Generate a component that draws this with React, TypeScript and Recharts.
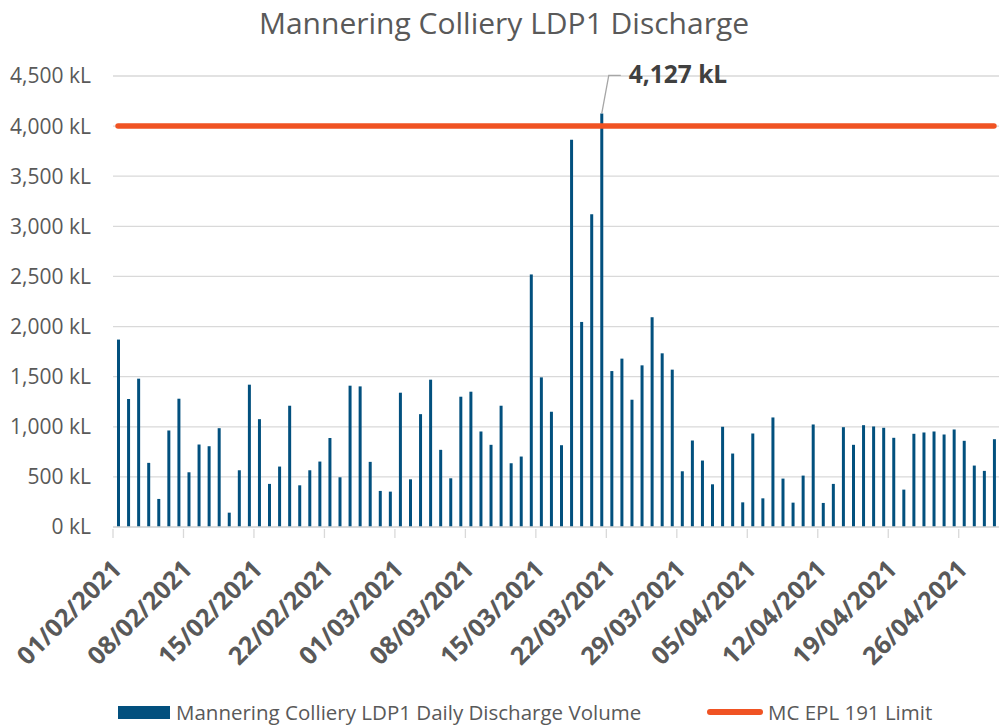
import { ComposedChart, Bar, Line, XAxis, YAxis, CartesianGrid, Legend, LabelList } from 'recharts';

const dates = [
  '01/02/2021', '02/02/2021', '03/02/2021', '04/02/2021', '05/02/2021', '06/02/2021', '07/02/2021',
  '08/02/2021', '09/02/2021', '10/02/2021', '11/02/2021', '12/02/2021', '13/02/2021', '14/02/2021',
  '15/02/2021', '16/02/2021', '17/02/2021', '18/02/2021', '19/02/2021', '20/02/2021', '21/02/2021',
  '22/02/2021', '23/02/2021', '24/02/2021', '25/02/2021', '26/02/2021', '27/02/2021', '28/02/2021',
  '01/03/2021', '02/03/2021', '03/03/2021', '04/03/2021', '05/03/2021', '06/03/2021', '07/03/2021',
  '08/03/2021', '09/03/2021', '10/03/2021', '11/03/2021', '12/03/2021', '13/03/2021', '14/03/2021',
  '15/03/2021', '16/03/2021', '17/03/2021', '18/03/2021', '19/03/2021', '20/03/2021', '21/03/2021',
  '22/03/2021', '23/03/2021', '24/03/2021', '25/03/2021', '26/03/2021', '27/03/2021', '28/03/2021',
  '29/03/2021', '30/03/2021', '31/03/2021', '01/04/2021', '02/04/2021', '03/04/2021', '04/04/2021',
  '05/04/2021', '06/04/2021', '07/04/2021', '08/04/2021', '09/04/2021', '10/04/2021', '11/04/2021',
  '12/04/2021', '13/04/2021', '14/04/2021', '15/04/2021', '16/04/2021', '17/04/2021', '18/04/2021',
  '19/04/2021', '20/04/2021', '21/04/2021', '22/04/2021', '23/04/2021', '24/04/2021', '25/04/2021',
  '26/04/2021', '27/04/2021', '28/04/2021', '29/04/2021',
];

// daily discharge volume in kL
const discharge = [
  1870, 1276, 1480, 640, 280, 963, 1280,
  546, 823, 806, 986, 143, 566, 1420,
  1076, 430, 603, 1210, 416, 566, 653,
  888, 496, 1410, 1403, 650, 360, 353,
  1340, 476, 1126, 1470, 770, 486, 1300,
  1350, 953, 820, 1210, 636, 703, 2520,
  1493, 1150, 816, 3863, 2046, 3120, 4127,
  1556, 1680, 1270, 1613, 2093, 1733, 1570,
  556, 863, 663, 426, 1000, 733, 246,
  933, 286, 1093, 483, 243, 513, 1023,
  240, 430, 996, 820, 1016, 1003, 990,
  890, 373, 930, 943, 953, 923, 973,
  860, 613, 560, 876,
];

const limitKl = 4000;
const yTicks = [0, 500, 1000, 1500, 2000, 2500, 3000, 3500, 4000, 4500];

const data = dates.map((date, i) => ({ date, discharge: discharge[i], limit: limitKl }));

const W = 999;
const H = 727;
const PLOT_LEFT = 113;
const BAND = (W - PLOT_LEFT) / dates.length;
const FONT = '"Open Sans", sans-serif';
const BLUE = '#02507e';
const ORANGE = '#f05323';
const GRID = '#d9d9d9';

const peak = Math.max(...discharge);
const fmtKl = (v: number) => `${v.toLocaleString('en-US')} kL`;

function DateTick({ x, y, payload }: any) {
  const tx = x + 5;
  const ty = y + 42;
  return (
    <g>
      <line x1={x - BAND / 2} x2={x - BAND / 2} y1={y} y2={y + 9} stroke={GRID} strokeWidth={1.3} />
      <text
        x={tx}
        y={ty}
        textAnchor="end"
        transform={`rotate(-45 ${tx} ${ty})`}
        fill="#595959"
        fontSize={25}
        fontWeight={700}
        fontFamily={FONT}
      >
        {payload.value}
      </text>
    </g>
  );
}

function PeakLabel(props: any) {
  const { x, y, width, value } = props;
  if (value !== peak) return null;
  const cx = Number(x) + Number(width) / 2;
  const top = Number(y);
  return (
    <g>
      <polyline
        points={`${cx},${top} ${cx + 7},${top - 38} ${cx + 19},${top - 38}`}
        fill="none"
        stroke="#a6a6a6"
        strokeWidth={1.3}
      />
      <text x={cx + 27} y={top - 30} fontSize={24.5} fontWeight={700} fill="#404040" fontFamily={FONT}>
        {fmtKl(value)}
      </text>
    </g>
  );
}

// legend item left edges, by series
const legendX: Record<string, number> = { discharge: 118, limit: 707 };

function ChartLegend({ payload }: any) {
  return (
    <div style={{ position: 'relative', width: W, height: 30, fontFamily: FONT, fontSize: 20.5, color: '#595959' }}>
      {(payload || []).map((entry: any) => (
        <div
          key={entry.value}
          style={{ position: 'absolute', left: legendX[entry.dataKey], top: 0, height: 30, display: 'flex', alignItems: 'center', whiteSpace: 'nowrap' }}
        >
          {entry.type === 'line' ? (
            <div style={{ width: 56, height: 6, borderRadius: 3, background: entry.color, marginRight: 5 }} />
          ) : (
            <div style={{ width: 52, height: 13, background: entry.color, marginRight: 6 }} />
          )}
          <span>{entry.value}</span>
        </div>
      ))}
    </div>
  );
}

export default function App() {
  return (
    <div style={{ position: 'absolute', left: 0, top: 0, width: W, height: H, background: '#fff' }}>
      <svg width={W} height={50} style={{ position: 'absolute', left: 0, top: 0 }}>
        <text x={504} y={33.5} textAnchor="middle" fontSize={30} fill="#595959" fontFamily={FONT}>
          Mannering Colliery LDP1 Discharge
        </text>
      </svg>
      <ComposedChart width={W} height={H} data={data} margin={{ top: 76, right: 0, bottom: 0, left: 0 }}>
        <CartesianGrid vertical={false} stroke={GRID} strokeWidth={1.3} />
        <XAxis
          dataKey="date"
          interval={6}
          height={170}
          tickSize={0}
          tickLine={false}
          axisLine={{ stroke: GRID, strokeWidth: 1.3 }}
          tick={<DateTick />}
        />
        <YAxis
          width={PLOT_LEFT}
          domain={[0, 4500]}
          ticks={yTicks}
          tickFormatter={fmtKl}
          axisLine={false}
          tickLine={false}
          tickSize={0}
          tickMargin={22}
          tick={{ fill: '#595959', fontSize: 21, fontFamily: FONT }}
        />
        <Bar dataKey="discharge" name="Mannering Colliery LDP1 Daily Discharge Volume" fill={BLUE} barSize={3} isAnimationActive={false}>
          <LabelList dataKey="discharge" content={<PeakLabel />} />
        </Bar>
        <Line
          dataKey="limit"
          name="MC EPL 191 Limit"
          type="linear"
          stroke={ORANGE}
          strokeWidth={5.5}
          strokeLinecap="round"
          dot={false}
          activeDot={false}
          legendType="line"
          isAnimationActive={false}
        />
        <Legend verticalAlign="bottom" content={<ChartLegend />} wrapperStyle={{ left: 0, width: W }} />
      </ComposedChart>
    </div>
  );
}
